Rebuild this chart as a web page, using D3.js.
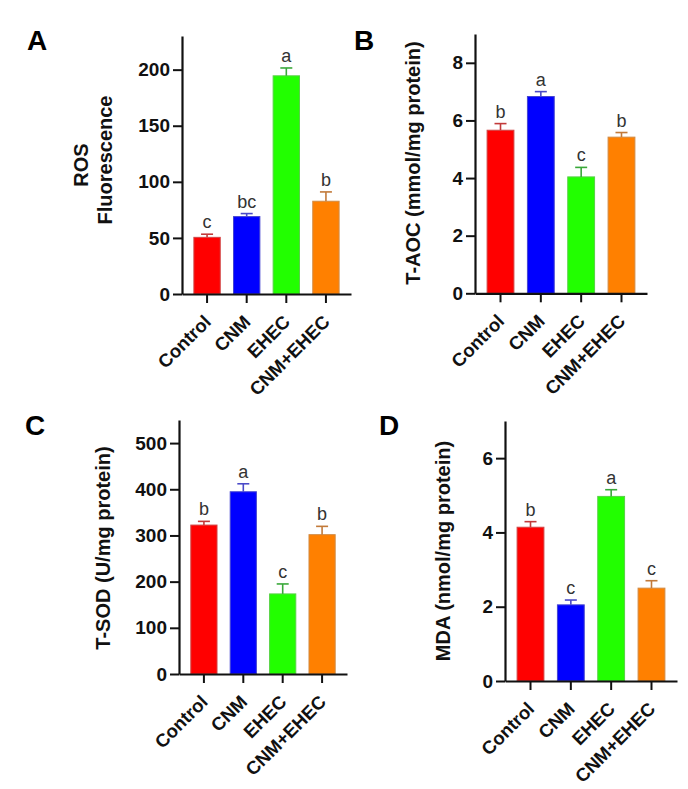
<!DOCTYPE html>
<html><head><meta charset="utf-8">
<script src="https://cdn.jsdelivr.net/npm/d3@7"></script>
<style>
body{margin:0;background:#fff;}
svg{display:block;font-family:"Liberation Sans",Arial,sans-serif;}
</style>
</head><body>
<svg id="chart" width="688" height="789"></svg>
<script>
// ---- data ----
const categories = ["Control", "CNM", "EHEC", "CNM+EHEC"];
const barColors = ["#ff0000", "#0000ff", "#22ff00", "#ff8000"];
const errColors = ["#c23a3a", "#4a4ac8", "#3aa83a", "#c27a3a"];

const rosMean = [50.5, 69, 194.5, 82.7];
const rosSem = [2.8, 2.7, 7.0, 8.3];
const rosLetters = ["c", "bc", "a", "b"];
const rosTicks = [0, 50, 100, 150, 200];

const aocMean = [5.66, 6.83, 4.04, 5.42];
const aocSem = [0.23, 0.17, 0.33, 0.16];
const aocLetters = ["b", "a", "c", "b"];
const aocTicks = [0, 2, 4, 6, 8];

const sodMean = [322.5, 394.6, 173.4, 301.7];
const sodSem = [8, 17.3, 21.6, 18];
const sodLetters = ["b", "a", "c", "b"];
const sodTicks = [0, 100, 200, 300, 400, 500];

const mdaMean = [4.14, 2.05, 4.97, 2.50];
const mdaSem = [0.15, 0.13, 0.18, 0.20];
const mdaLetters = ["b", "c", "a", "c"];
const mdaTicks = [0, 2, 4, 6];

// ---- layout ----
const panels = [
  {label: "A", mean: rosMean, sem: rosSem, letters: rosLetters, ticks: rosTicks, yMax: 230,
   x0: 182, x1: 351, yTop: 36, yBase: 294, lx: 27, ly: 50,
   titles: [{t: "ROS", x: 88, y: 165}, {t: "Fluorescence", x: 111.5, y: 160}]},
  {label: "B", mean: aocMean, sem: aocSem, letters: aocLetters, ticks: aocTicks, yMax: 9,
   x0: 475, x1: 647, yTop: 34, yBase: 293.3, lx: 354, ly: 50,
   titles: [{t: "T-AOC (mmol/mg protein)", x: 420, y: 163}]},
  {label: "C", mean: sodMean, sem: sodSem, letters: sodLetters, ticks: sodTicks, yMax: 550,
   x0: 179, x1: 347, yTop: 420, yBase: 674, lx: 25, ly: 435,
   titles: [{t: "T-SOD (U/mg protein)", x: 110, y: 548}]},
  {label: "D", mean: mdaMean, sem: mdaSem, letters: mdaLetters, ticks: mdaTicks, yMax: 7,
   x0: 505, x1: 677, yTop: 421, yBase: 681, lx: 379, ly: 435,
   titles: [{t: "MDA (nmol/mg protein)", x: 450, y: 551}]}
];

const svg = d3.select("#chart");
const FONT = "'Liberation Sans', Arial, sans-serif";

panels.forEach(p => {
  const g = svg.append("g");
  const x = d3.scaleBand().domain(categories).range([p.x0, p.x1])
    .paddingInner(0.335).paddingOuter(0.3);
  const y = d3.scaleLinear().domain([0, p.yMax]).range([p.yBase, p.yTop]);

  // bars
  g.selectAll("rect.bar").data(categories).join("rect")
    .attr("x", d => x(d)).attr("width", x.bandwidth())
    .attr("y", (d, i) => y(p.mean[i]))
    .attr("height", (d, i) => y(0) - y(p.mean[i]))
    .attr("fill", (d, i) => barColors[i])
    .attr("stroke", (d, i) => d3.interpolateRgb(barColors[i], "#999")(0.45))
    .attr("stroke-width", 1);

  // error bars + significance letters
  categories.forEach((d, i) => {
    const cx = x(d) + x.bandwidth() / 2;
    const yt = y(p.mean[i] + p.sem[i]);
    g.append("line").attr("x1", cx).attr("x2", cx)
      .attr("y1", y(p.mean[i])).attr("y2", yt)
      .attr("stroke", errColors[i]).attr("stroke-width", 1.6);
    g.append("line").attr("x1", cx - 6).attr("x2", cx + 6)
      .attr("y1", yt).attr("y2", yt)
      .attr("stroke", errColors[i]).attr("stroke-width", 1.6);
    g.append("text").attr("x", cx).attr("y", yt - 6)
      .attr("text-anchor", "middle").attr("font-size", 18)
      .attr("fill", "#333").text(p.letters[i]);
  });

  // y axis
  const ya = g.append("g").attr("transform", `translate(${p.x0},0)`)
    .call(d3.axisLeft(y).tickValues(p.ticks).tickFormat(d3.format("~g"))
      .tickSize(9).tickSizeOuter(0).tickPadding(3));
  ya.select(".domain").attr("stroke", "#111").attr("stroke-width", 2.2);
  ya.selectAll(".tick line").attr("stroke", "#111").attr("stroke-width", 2);
  ya.selectAll(".tick text").attr("font-size", 19).attr("font-weight", "bold")
    .attr("fill", "#111").attr("font-family", FONT);

  // x axis
  const xa = g.append("g").attr("transform", `translate(0,${p.yBase})`)
    .call(d3.axisBottom(x).tickSize(9).tickSizeOuter(0));
  xa.select(".domain").attr("stroke", "#111").attr("stroke-width", 2.2);
  xa.selectAll(".tick line").attr("stroke", "#111").attr("stroke-width", 2);
  xa.selectAll(".tick text").remove();
  xa.selectAll(".tick").append("text")
    .attr("transform", "translate(5,29) rotate(-45)")
    .attr("text-anchor", "end")
    .attr("font-size", 18.5).attr("font-weight", "bold").attr("fill", "#111")
    .attr("font-family", FONT)
    .text(d => d);

  // axis titles
  p.titles.forEach(t => {
    g.append("text").attr("transform", `translate(${t.x},${t.y}) rotate(-90)`)
      .attr("text-anchor", "middle").attr("font-size", 20).attr("font-weight", "bold")
      .attr("fill", "#111").text(t.t);
  });

  // panel label
  g.append("text").attr("x", p.lx).attr("y", p.ly)
    .attr("font-size", 28).attr("font-weight", "bold").attr("fill", "#000").text(p.label);
});
</script>
</body></html>
